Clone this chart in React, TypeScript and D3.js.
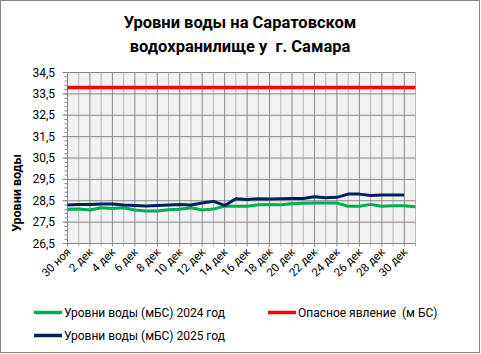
import React from "react";
import * as d3 from "d3";

// categories: one per day, 30 Nov .. 31 Dec
const days = [
  "30 ноя", "1 дек", "2 дек", "3 дек", "4 дек", "5 дек", "6 дек", "7 дек",
  "8 дек", "9 дек", "10 дек", "11 дек", "12 дек", "13 дек", "14 дек", "15 дек",
  "16 дек", "17 дек", "18 дек", "19 дек", "20 дек", "21 дек", "22 дек", "23 дек",
  "24 дек", "25 дек", "26 дек", "27 дек", "28 дек", "29 дек", "30 дек", "31 дек",
];

const level2024 = [
  28.1, 28.11, 28.07, 28.17, 28.14, 28.17, 28.07, 28.02,
  28.02, 28.08, 28.1, 28.17, 28.07, 28.11, 28.25, 28.24,
  28.24, 28.31, 28.32, 28.31, 28.36, 28.38, 28.39, 28.39,
  28.39, 28.24, 28.24, 28.33, 28.24, 28.27, 28.27, 28.22,
];

const level2025 = [
  28.3, 28.33, 28.33, 28.35, 28.35, 28.3, 28.28, 28.25,
  28.28, 28.3, 28.33, 28.3, 28.39, 28.47, 28.28, 28.59,
  28.56, 28.59, 28.58, 28.59, 28.61, 28.61, 28.69, 28.64,
  28.66, 28.81, 28.81, 28.75, 28.77, 28.77, 28.77,
];

const dangerLevel = [
  33.8, 33.8, 33.8, 33.8, 33.8, 33.8, 33.8, 33.8,
  33.8, 33.8, 33.8, 33.8, 33.8, 33.8, 33.8, 33.8,
  33.8, 33.8, 33.8, 33.8, 33.8, 33.8, 33.8, 33.8,
  33.8, 33.8, 33.8, 33.8, 33.8, 33.8, 33.8, 33.8,
];

const yTicks = [26.5, 27.5, 28.5, 29.5, 30.5, 31.5, 32.5, 33.5, 34.5];

const W = 481;
const H = 354;
const left = 67.5;
const right = 415.5;
const top = 72.5;
const bottom = 243.5;
const font = "Roboto, 'Open Sans', sans-serif";
const gridDark = "#868686";
const gridLight = "#b9b9b9";

export default function App() {
  const x = d3.scalePoint<string>().domain(days).range([left, right]);
  const y = d3.scaleLinear().domain([26.5, 34.5]).range([bottom, top]);
  const minor = d3.range(0, 41).map((i) => 26.5 + i * 0.2);

  const line = d3
    .line<number>()
    .x((_, i) => x(days[i])!)
    .y((d) => y(d));

  const series = [
    { name: "Опасное явление  (м БС)", values: dangerLevel, color: "#ff0000", w: 3.5 },
    { name: "Уровни воды (мБС) 2024 год", values: level2024, color: "#00b050", w: 3 },
    { name: "Уровни воды (мБС) 2025 год", values: level2025, color: "#002060", w: 3 },
  ];

  const legend = [
    { s: series[1], lx: 34, ly: 312.5 },
    { s: series[0], lx: 268, ly: 312.5 },
    { s: series[2], lx: 34, ly: 335.5 },
  ];

  return (
    <svg
      width={W}
      height={H}
      style={{ position: "absolute", left: 0, top: 0, fontFamily: font }}
    >
      <rect x={0} y={0} width={W} height={H} fill="#fff" />
      <rect x={0.5} y={0.5} width={479} height={352} fill="none" stroke={gridDark} />

      {/* title */}
      <text x={240} y={28} textAnchor="middle" fontSize={16.5} fontWeight="bold">
        Уровни воды на Саратовском
      </text>
      <text x={240} y={51.5} textAnchor="middle" fontSize={16.5} fontWeight="bold" xmlSpace="preserve">
        водохранилище у  г. Самара
      </text>

      {/* plot area */}
      <rect x={left} y={top} width={right - left} height={bottom - top} fill="#f2f2f2" />
      {days.map((d, i) => (
        <line
          key={d}
          x1={x(d)}
          x2={x(d)}
          y1={top}
          y2={bottom + 3}
          stroke={i % 2 === 0 ? gridDark : gridLight}
        />
      ))}
      {yTicks.map((t) => (
        <line key={t} x1={left - 5} x2={right} y1={y(t)} y2={y(t)} stroke={gridDark} />
      ))}
      {minor.map((t, i) => (
        <line key={i} x1={left - 3} x2={left} y1={y(t)} y2={y(t)} stroke={gridDark} />
      ))}
      <line x1={left} x2={left} y1={top} y2={bottom} stroke={gridDark} />
      <line x1={left} x2={right} y1={bottom} y2={bottom} stroke={gridDark} />

      {yTicks.map((t) => (
        <text key={t} x={55} y={y(t) + 4} textAnchor="end" fontSize={12}>
          {t.toFixed(1).replace(".", ",")}
        </text>
      ))}
      <text
        transform={`translate(21,${193}) rotate(-90)`}
        textAnchor="middle"
        fontSize={12.5}
        fontWeight="bold"
      >
        Уровни воды
      </text>

      {days.map((d, i) =>
        i % 2 === 0 ? (
          <text
            key={d}
            transform={`translate(${x(d)! + 4},${bottom + 9}) rotate(-45)`}
            textAnchor="end"
            fontSize={11.5}
          >
            {d}
          </text>
        ) : null
      )}

      {series.map((s) => (
        <path
          key={s.name}
          d={line(s.values) ?? ""}
          fill="none"
          stroke={s.color}
          strokeWidth={s.w}
          strokeLinejoin="round"
        />
      ))}

      {legend.map(({ s, lx, ly }) => (
        <g key={s.name}>
          <line x1={lx} x2={lx + 28} y1={ly} y2={ly} stroke={s.color} strokeWidth={3.5} />
          <text x={lx + 30} y={ly + 4} fontSize={12} xmlSpace="preserve">
            {s.name}
          </text>
        </g>
      ))}
    </svg>
  );
}
